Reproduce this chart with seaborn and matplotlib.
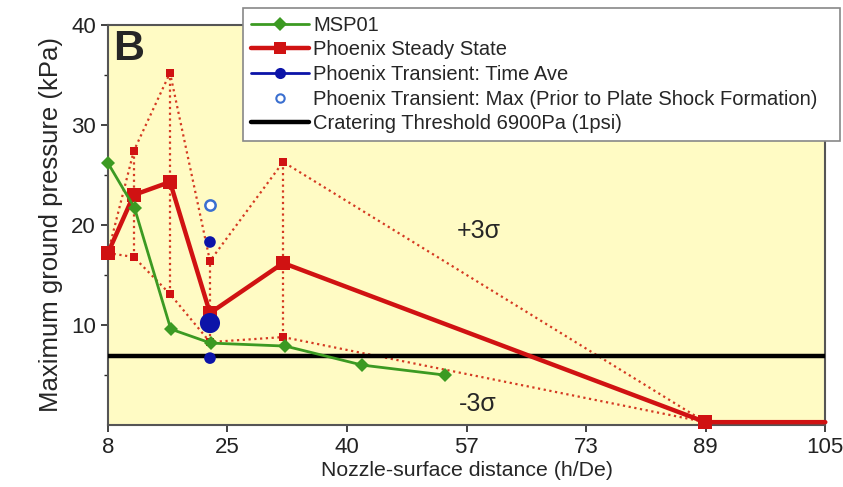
import numpy as np
import pandas as pd
import matplotlib
matplotlib.use("Agg")
import matplotlib.pyplot as plt
from matplotlib.lines import Line2D
import seaborn as sns

# ---- data ----
msp_x = [8, 11.6, 16.5, 21.9, 32.0, 42.4, 53.6]
msp_y = [26.2, 21.7, 9.6, 8.2, 7.9, 6.0, 5.0]

steady_x = [8, 11.5, 16.4, 21.8, 31.7, 88.8, 105]
steady_y = [17.2, 23.0, 24.3, 11.2, 16.2, 0.3, 0.3]

sig_x = [8, 11.5, 16.4, 21.8, 31.7, 88.8]
sig_upper = [17.2, 27.4, 35.2, 16.4, 26.3, 0.3]
sig_lower = [17.2, 16.8, 13.1, 8.3, 8.8, 0.3]

trans_ave_x = [21.8, 21.8, 21.8]
trans_ave_y = [18.3, 10.2, 6.7]
trans_ave_size = [70, 210, 70]

trans_max_x = [21.8]
trans_max_y = [22.0]

threshold = 6.9

xtick_labels = ["8", "25", "40", "57", "73", "89", "105"]
yticks = [10, 20, 30, 40]

legend_labels = ["MSP01", "Phoenix Steady State", "Phoenix Transient: Time Ave",
                 "Phoenix Transient: Max (Prior to Plate Shock Formation)",
                 "Cratering Threshold 6900Pa (1psi)"]

# ---- style ----
sns.set_style("ticks")
plt.rcParams["font.family"] = ["Liberation Sans", "DejaVu Sans"]

GREEN = "#3c9a22"
RED = "#d01212"
RED_DOT = "#d43a22"
BLUE = "#0c14a8"
BG = "#fffbc4"

fig = plt.figure(figsize=(8.43, 4.87), dpi=100)
ax = fig.add_axes([0.128, 0.127, 0.851, 0.822])
ax.set_facecolor(BG)

dot = (0, (1, 1.6))
# sigma envelopes (dotted)
ax.vlines(sig_x, sig_lower, sig_upper, colors=RED_DOT, linestyles=dot, linewidth=1.6, zorder=2)
sns.lineplot(x=sig_x, y=sig_upper, ax=ax, color=RED_DOT, linestyle=dot, linewidth=1.6,
             marker="s", markersize=5.5, markeredgewidth=0, markerfacecolor=RED,
             sort=False, estimator=None, zorder=2, clip_on=False)
sns.lineplot(x=sig_x, y=sig_lower, ax=ax, color=RED_DOT, linestyle=dot, linewidth=1.6,
             marker="s", markersize=5.5, markeredgewidth=0, markerfacecolor=RED,
             sort=False, estimator=None, zorder=2, clip_on=False)

# threshold
ax.axhline(threshold, color="black", linewidth=3.2, zorder=3)

# steady state
sns.lineplot(x=steady_x, y=steady_y, ax=ax, color=RED, linewidth=3.2, marker="s",
             markersize=10, markeredgewidth=0, markevery=list(range(len(steady_x) - 1)),
             sort=False, estimator=None, zorder=4, clip_on=False)

# MSP01
sns.lineplot(x=msp_x, y=msp_y, ax=ax, color=GREEN, linewidth=2.0, marker="D",
             markersize=7.5, markeredgewidth=0, sort=False, estimator=None, zorder=5,
             clip_on=False)

# transient
sns.scatterplot(x=trans_ave_x, y=trans_ave_y, ax=ax, color=BLUE, s=trans_ave_size,
                edgecolor="none", zorder=6)
ax.scatter(trans_max_x, trans_max_y, s=55, facecolor="white", edgecolor="#3a6fd0",
           linewidth=1.8, zorder=6)

ax.set_xlim(8, 105)
ax.set_ylim(0, 40)
ax.set_xticks(np.linspace(8, 105, len(xtick_labels)))
ax.set_xticklabels(xtick_labels)
ax.set_yticks(yticks)
ax.set_yticks([5, 15, 25, 35], minor=True)
ax.tick_params(axis="both", labelsize=16, colors="#222222", length=5, width=1.2)
ax.tick_params(axis="y", which="minor", length=3, width=1)
for s in ax.spines.values():
    s.set_color("#555555")
    s.set_linewidth(1.5)

ax.set_xlabel("Nozzle-surface distance (h/De)", fontsize=15.3, labelpad=2)
ax.set_ylabel("Maximum ground pressure (kPa)", fontsize=18.5, labelpad=6)

ax.text(8.7, 39.6, "B", fontsize=31, fontweight="bold", va="top", ha="left", zorder=7)
ax.text(58.2, 19.4, "+3σ", fontsize=18, va="center", ha="center", zorder=7)
ax.text(58.0, 2.1, "-3σ", fontsize=18, va="center", ha="center", zorder=7)

handles = [
    Line2D([], [], color=GREEN, lw=2, marker="D", ms=7, mew=0),
    Line2D([], [], color=RED, lw=3.2, marker="s", ms=9, mew=0),
    Line2D([], [], color=BLUE, lw=2, marker="o", ms=8, mew=0),
    Line2D([], [], color="none", marker="o", ms=6, mfc="white", mec="#3a6fd0", mew=1.5),
    Line2D([], [], color="black", lw=3.2),
]
leg = fig.legend(handles, legend_labels, loc="upper left",
                 bbox_to_anchor=(243 / 843, 0.5, 597 / 843, 1 - 8 / 487 - 0.5), mode="expand",
                 fontsize=14.5, frameon=True, fancybox=False, framealpha=1, edgecolor="#888888",
                 labelspacing=0.28, handlelength=2.9, handletextpad=0.2, borderpad=0.38,
                 borderaxespad=0)
leg.get_frame().set_linewidth(1.2)

fig.savefig("out.png", dpi=100, facecolor="white")
